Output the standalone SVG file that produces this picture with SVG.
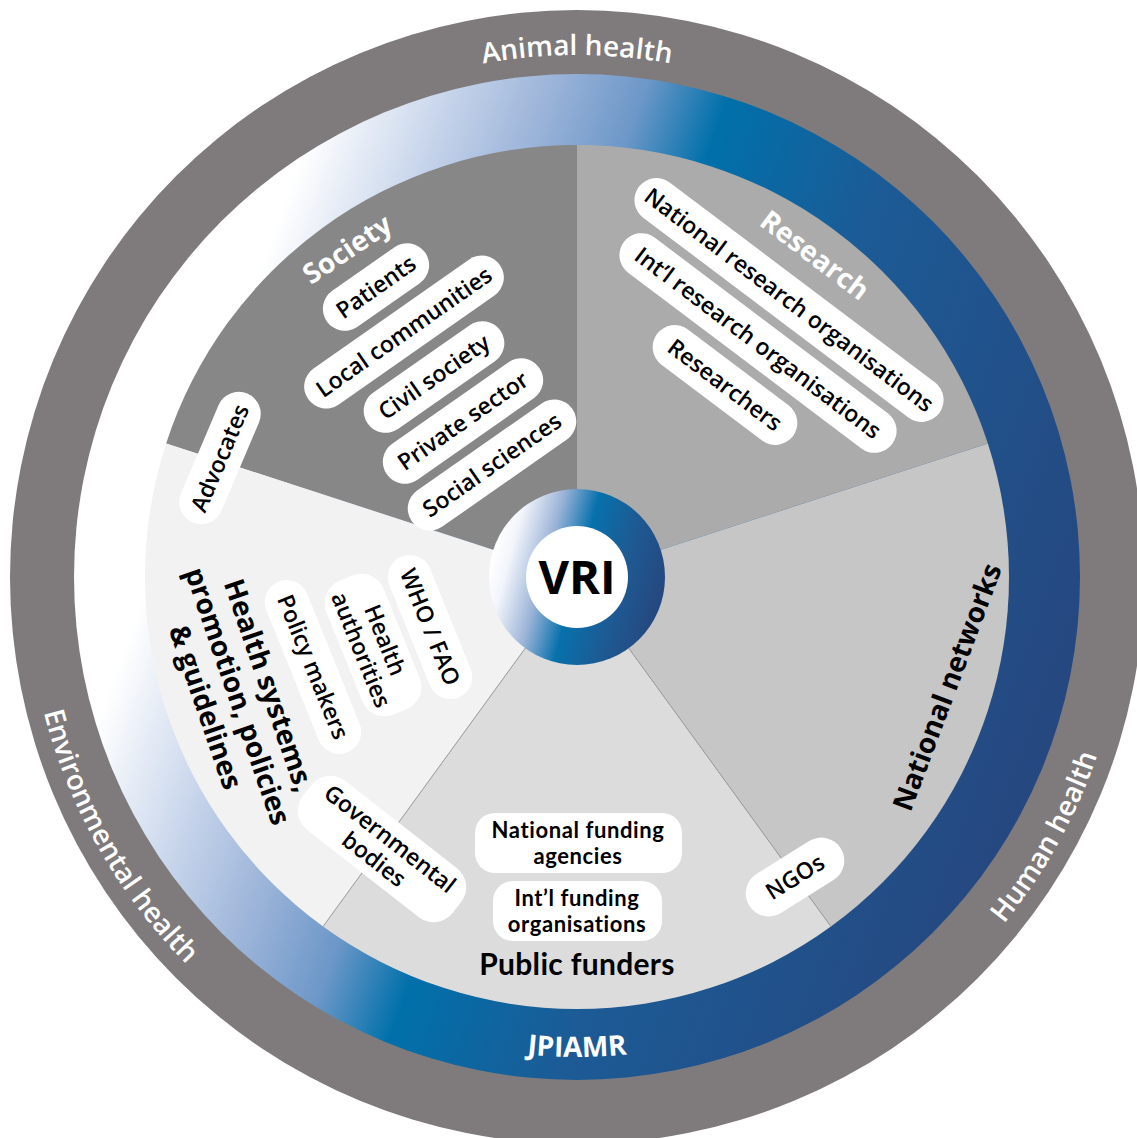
<svg xmlns="http://www.w3.org/2000/svg" width="1137" height="1138" viewBox="0 0 1137 1138">
<defs>
<style>
.pill{fill:#ffffff}
.pt{font-family:"Open Sans","DejaVu Sans",sans-serif;font-weight:600;font-size:23px;fill:#000;text-anchor:middle}
.pf{font-family:Lato,"Open Sans",sans-serif;font-weight:700;font-size:22px;letter-spacing:0.6px;fill:#000;text-anchor:middle}
.big{font-family:"Open Sans","DejaVu Sans",sans-serif;font-weight:700;font-size:28px;fill:#000;text-anchor:middle}
.sec{font-family:"Open Sans","DejaVu Sans",sans-serif;font-weight:700;font-size:28px;fill:#fff;text-anchor:middle}
.ring{font-family:"Open Sans","DejaVu Sans",sans-serif;font-weight:600;font-size:28px;fill:#fff}
.div{stroke:#9c9c9c;stroke-width:1;fill:none}
</style>
<linearGradient id="ringGrad" gradientUnits="userSpaceOnUse" x1="104" y1="407" x2="1050" y2="747">
<stop offset="0" stop-color="#ffffff"/>
<stop offset="0.1" stop-color="#ffffff"/>
<stop offset="0.21" stop-color="#CAD7EC"/>
<stop offset="0.31" stop-color="#9CB4D9"/>
<stop offset="0.4" stop-color="#6C97C8"/>
<stop offset="0.48" stop-color="#0070AA"/>
<stop offset="0.65" stop-color="#1C5B96"/>
<stop offset="1" stop-color="#26477F"/>
</linearGradient>
<linearGradient id="vriGrad" x1="0.02" y1="0.37" x2="0.98" y2="0.63">
<stop offset="0" stop-color="#ffffff"/>
<stop offset="0.1" stop-color="#F2F5FB"/>
<stop offset="0.3" stop-color="#9DB4D8"/>
<stop offset="0.5" stop-color="#0771AC"/>
<stop offset="0.75" stop-color="#1E5A93"/>
<stop offset="1" stop-color="#26477F"/>
</linearGradient>
<path id="arcTop" d="M86.5,398.5 A522,522 0 0 1 1067.5,398.5"/>
<path id="arcLeft" d="M61.8,384.4 A550,550 0 0 0 476.8,1117.8"/>
<path id="arcRight" d="M681.9,1116.9 A550,550 0 0 0 1090.5,379.9"/>
<path id="arcBottom" d="M209.3,885.5 A480,480 0 0 0 944.7,885.5"/>
</defs>

<g id="outer-ring">
<circle cx="577" cy="577" r="567" fill="#7F7B7C"/>
<text class="ring"><textPath href="#arcTop" startOffset="50%" text-anchor="middle">Animal health</textPath></text>
<text class="ring"><textPath href="#arcLeft" startOffset="50%" text-anchor="middle">Environmental health</textPath></text>
<text class="ring"><textPath href="#arcRight" startOffset="50%" text-anchor="middle">Human health</textPath></text>
</g>

<g id="jpiamr-ring">
<circle cx="577" cy="577" r="503" fill="url(#ringGrad)"/>
<text class="ring" style="font-weight:700"><textPath href="#arcBottom" startOffset="50%" text-anchor="middle">JPIAMR</textPath></text>
</g>

<g id="sectors">
<path id="sector-society" d="M577,577 L166.14,443.5 A432,432 0 0 1 577,145 Z" fill="#878787"/>
<path id="sector-research" d="M577,577 L577,145 A432,432 0 0 1 987.86,443.5 Z" fill="#ABABAB"/>
<path id="sector-national" d="M577,577 L987.86,443.5 A432,432 0 0 1 830.93,926.5 Z" fill="#C6C6C6"/>
<path id="sector-public" d="M577,577 L830.93,926.5 A432,432 0 0 1 323.07,926.5 Z" fill="#DCDCDC"/>
<path id="sector-health" d="M577,577 L323.07,926.5 A432,432 0 0 1 166.14,443.5 Z" fill="#F2F2F2"/>
</g>

<g id="connectors">
<line class="div" x1="577" y1="577" x2="830.93" y2="926.5"/>
<line class="div" x1="577" y1="577" x2="323.07" y2="926.5"/>
</g>

<g id="society">
<text class="sec" transform="translate(347,249) rotate(-34)" y="10">Society</text>
<g id="patients" transform="translate(376,287) rotate(-35)"><rect class="pill" x="-60" y="-22" width="120" height="44" rx="22"/><text class="pt" y="8">Patients</text></g>
<g id="local-communities" transform="translate(404,332) rotate(-35)"><rect class="pill" x="-117" y="-22" width="234" height="44" rx="22"/><text class="pt" y="8">Local communities</text></g>
<g id="civil-society" transform="translate(434,377) rotate(-35)"><rect class="pill" x="-81" y="-22" width="162" height="44" rx="22"/><text class="pt" y="8">Civil society</text></g>
<g id="private-sector" transform="translate(463,421) rotate(-35)"><rect class="pill" x="-93" y="-22" width="186" height="44" rx="22"/><text class="pt" y="8">Private sector</text></g>
<g id="social-sciences" transform="translate(492,465) rotate(-35)"><rect class="pill" x="-98" y="-22" width="196" height="44" rx="22"/><text class="pt" y="8">Social sciences</text></g>
</g>

<g id="research">
<text class="sec" transform="translate(815,255) rotate(37)" y="10" fill="#F4F4F4">Research</text>
<g id="national-research" transform="translate(789,300) rotate(37)"><rect class="pill" x="-188" y="-22" width="376" height="44" rx="22"/><text class="pt" y="8">National research organisations</text></g>
<g id="intl-research" transform="translate(758,343) rotate(37)"><rect class="pill" x="-168" y="-22" width="336" height="44" rx="22"/><text class="pt" y="8">Int’l research organisations</text></g>
<g id="researchers" transform="translate(725,385) rotate(37)"><rect class="pill" x="-85" y="-22" width="170" height="44" rx="22"/><text class="pt" y="8">Researchers</text></g>
</g>

<g id="national-networks">
<text class="big" transform="translate(947,687) rotate(-69.5)" y="10">National networks</text>
<g id="ngos" transform="translate(795,877) rotate(-32)"><rect class="pill" x="-54" y="-23" width="108" height="46" rx="23"/><text class="pt" y="8">NGOs</text></g>
</g>

<g id="public-funders">
<g id="national-funding"><rect class="pill" x="475" y="813" width="207" height="60" rx="20"/><text class="pf" x="578" y="838">National funding</text><text class="pf" x="578" y="864">agencies</text></g>
<g id="intl-funding"><rect class="pill" x="493" y="881" width="169" height="60" rx="20"/><text class="pf" x="577" y="906">Int’l funding</text><text class="pf" x="577" y="932">organisations</text></g>
<text class="pf" x="577" y="975" style="font-size:30px;letter-spacing:0.3px">Public funders</text>
</g>

<g id="health-systems">
<g transform="translate(238,696) rotate(71)">
<text class="big" y="-23">Health systems,</text>
<text class="big" y="10">promotion, policies</text>
<text class="big" y="44">&amp; guidelines</text>
</g>
<g id="advocates" transform="translate(220,458) rotate(-67)"><rect class="pill" x="-70" y="-22" width="140" height="44" rx="22"/><text class="pt" y="8">Advocates</text></g>
<g id="who-fao" transform="translate(430,627) rotate(68)"><rect class="pill" x="-76" y="-22" width="152" height="44" rx="22"/><text class="pt" y="8">WHO / FAO</text></g>
<g id="health-authorities" transform="translate(373,645) rotate(68)"><rect class="pill" x="-72" y="-31" width="144" height="62" rx="24"/><text class="pt" y="-5">Health</text><text class="pt" y="21">authorities</text></g>
<g id="policy-makers" transform="translate(313,667) rotate(68)"><rect class="pill" x="-92" y="-22" width="184" height="44" rx="22"/><text class="pt" y="8">Policy makers</text></g>
<g id="governmental-bodies" transform="translate(382,849) rotate(38)"><rect class="pill" x="-95" y="-31" width="190" height="62" rx="24"/><text class="pt" y="-5">Governmental</text><text class="pt" y="21">bodies</text></g>
</g>

<g id="vri">
<circle cx="577" cy="577" r="88" fill="url(#vriGrad)"/>
<circle cx="577" cy="577" r="51" fill="#ffffff"/>
<text x="577" y="594" style="font-family:'Open Sans','DejaVu Sans',sans-serif;font-weight:700;font-size:47px;fill:#000;text-anchor:middle">VRI</text>
</g>
</svg>
